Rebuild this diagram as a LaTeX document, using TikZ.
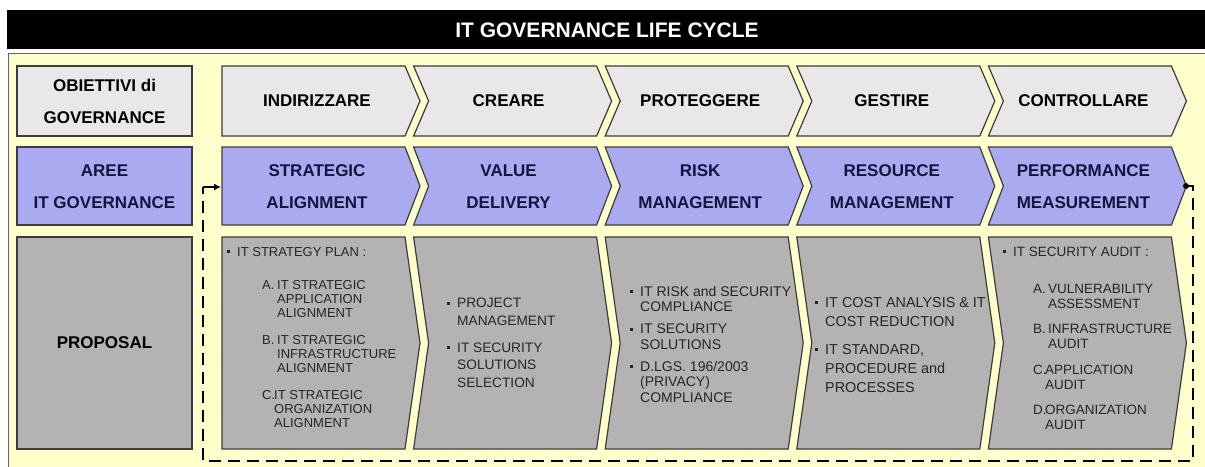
\documentclass[tikz,border=0pt]{standalone}
\usepackage{fontspec}
\setmainfont{Liberation Sans}
\usetikzlibrary{arrows.meta}

\definecolor{panel}{HTML}{FFFFCC}
\definecolor{goalgray}{HTML}{E8E8E8}
\definecolor{areablue}{HTML}{AAAAF0}
\definecolor{propgray}{HTML}{B3B3B3}
\definecolor{edge}{HTML}{3C3C3C}
\definecolor{navy}{HTML}{14143C}

% chevron: left x, top y, bottom y, notch depth, style
\newcommand{\chev}[5]{%
  \filldraw[#5] (#1,#2) -- ({#1+183},#2) -- ({#1+198},{(#2+#3)/2})
    -- ({#1+183},#3) -- (#1,#3) -- ({#1+#4},{(#2+#3)/2}) -- cycle;}
\newcommand{\itm}{\rule[3.2pt]{3pt}{3pt}\hspace{7pt}}

\tikzset{
  box/.style={draw=edge,line width=1.2pt},
  goal/.style={box,fill=goalgray},
  area/.style={box,fill=areablue},
  prop/.style={box,fill=propgray},
  head/.style={font=\bfseries\fontsize{17}{32}\selectfont,align=center,inner sep=0pt},
  list/.style={anchor=north west,align=left,inner sep=0pt,text=black!85},
  loopline/.style={line width=2pt,dash pattern=on 12pt off 7pt}
}

\begin{document}
\begin{tikzpicture}[x=1pt,y=-1pt]
  \useasboundingbox (0,0) rectangle (1205,466);

  % title bar and panel
  \fill[black] (7,10) rectangle (1205,49);
  \node[text=white,font=\bfseries\fontsize{21}{24}\selectfont] (title) at (607,30) {IT GOVERNANCE LIFE CYCLE};
  \filldraw[fill=panel,draw=edge!80,line width=1pt] (8,53) rectangle (1210,480);

  % left column
  \filldraw[goal] (17,66) rectangle (192,136);
  \filldraw[area] (17,147) rectangle (192,225);
  \filldraw[prop] (17,237) rectangle (192,449);
  \node[head] (obj) at (104.5,101) {OBIETTIVI di\\GOVERNANCE};
  \node[head,text=navy] (aree) at (104.5,187) {AREE\\IT GOVERNANCE};
  \node[head] (prop) at (104.5,343) {PROPOSAL};

  % the three rows of chevrons
  \foreach \i in {0,...,4}{
    \pgfmathsetmacro{\xl}{222+191.6*\i}
    \pgfmathsetmacro{\nd}{ifthenelse(\i==0,0,15)}
    \chev{\xl}{66}{136}{\nd}{goal}
    \chev{\xl}{147}{225}{\nd}{area}
    \chev{\xl}{237}{449}{\nd}{prop}
  }

  \foreach \i/\nm/\txt in {0/ind/INDIRIZZARE,1/cre/CREARE,2/pro/PROTEGGERE,3/ges/GESTIRE,4/con/CONTROLLARE}
    \node[head] (\nm) at (317+191.6*\i,101) {\txt};
  \foreach \i/\nm/\txt in {0/sa/{STRATEGIC\\ALIGNMENT},1/vd/{VALUE\\DELIVERY},2/rm/{RISK\\MANAGEMENT},
                           3/resm/{RESOURCE\\MANAGEMENT},4/pm/{PERFORMANCE\\MEASUREMENT}}
    \node[head,text=navy] (\nm) at (317+191.6*\i,187) {\txt};

  % proposals
  \node[list,font=\fontsize{13}{14}\selectfont] (plan) at (227,247.3) {\itm IT STRATEGY PLAN :\\[19pt]
    \hspace*{35pt}\makebox[15pt][l]{A.}IT STRATEGIC\\
    \hspace*{50pt}APPLICATION\\
    \hspace*{50pt}ALIGNMENT\\[13pt]
    \hspace*{35pt}\makebox[15pt][l]{B.}IT STRATEGIC\\
    \hspace*{50pt}INFRASTRUCTURE\\
    \hspace*{50pt}ALIGNMENT\\[13pt]
    \hspace*{35pt}\makebox[12pt][l]{C.}IT STRATEGIC\\
    \hspace*{47pt}ORGANIZATION\\
    \hspace*{47pt}ALIGNMENT};
  \node[list,font=\fontsize{13.7}{17.5}\selectfont] (proj) at (447,298) {\itm PROJECT\\
    \hspace*{10pt}MANAGEMENT\\[9.5pt]
    \itm IT SECURITY\\
    \hspace*{10pt}SOLUTIONS\\
    \hspace*{10pt}SELECTION};
  \node[list,font=\fontsize{14}{15.5}\selectfont] (risk) at (630,286) {\itm IT RISK and SECURITY\\
    \hspace*{10pt}COMPLIANCE\\[6.5pt]
    \itm IT SECURITY\\
    \hspace*{10pt}SOLUTIONS\\[6.5pt]
    \itm D.LGS. 196/2003\\
    \hspace*{10pt}(PRIVACY)\\
    \hspace*{10pt}COMPLIANCE};
  \node[list,font=\fontsize{14.4}{19}\selectfont] (cost) at (815,297) {\itm IT COST ANALYSIS \& IT\\
    \hspace*{10pt}COST REDUCTION\\[9pt]
    \itm IT STANDARD,\\
    \hspace*{10pt}PROCEDURE and\\
    \hspace*{10pt}PROCESSES};
  \node[list,font=\fontsize{13.5}{15}\selectfont] (audit) at (1003,247) {\itm IT SECURITY AUDIT :\\[22pt]
    \hspace*{30pt}\makebox[15pt][l]{A.}VULNERABILITY\\
    \hspace*{45pt}ASSESSMENT\\[10pt]
    \hspace*{30pt}\makebox[15pt][l]{B.}INFRASTRUCTURE\\
    \hspace*{45pt}AUDIT\\[11pt]
    \hspace*{30pt}\makebox[12pt][l]{C.}APPLICATION\\
    \hspace*{42pt}AUDIT\\[10pt]
    \hspace*{30pt}\makebox[12pt][l]{D.}ORGANIZATION\\
    \hspace*{42pt}AUDIT};

  % feedback loop back to the first area
  \coordinate (pmTip) at (1186,186);
  \coordinate (loopL) at (203,187);
  \coordinate (saIn) at (221,187);
  \fill (pmTip) circle (3);
  \draw[loopline] (pmTip) -- ++(7,0) -- ++(0,275) -| (loopL);
  \draw[line width=2pt,-{Latex[length=7pt,width=7pt]}] (loopL) -- (saIn);
\end{tikzpicture}
\end{document}
